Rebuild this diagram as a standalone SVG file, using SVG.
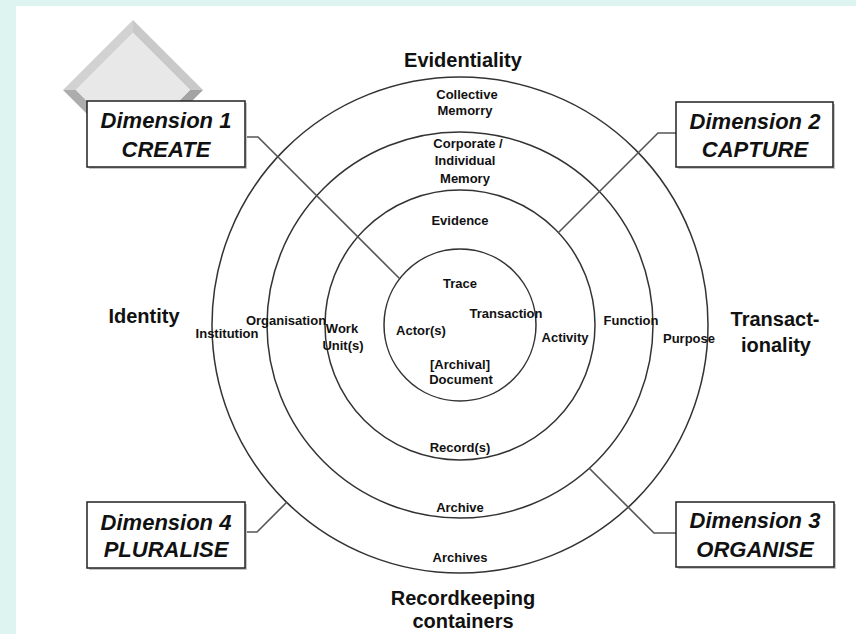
<svg xmlns="http://www.w3.org/2000/svg" width="856" height="634" viewBox="0 0 856 634">
  <style>
    .ring { fill: none; stroke: #333; stroke-width: 1.5; }
    .link { fill: none; stroke: #555; stroke-width: 1.6; }
    .box { fill: #fff; stroke: #222; stroke-width: 1.5; }
    .shadow { fill: #c4c4c4; }
    .dim { font-family: "Liberation Sans", Arial, sans-serif; font-style: italic; font-weight: bold; font-size: 22px; fill: #111; text-anchor: middle; }
    .axis { font-family: "Liberation Sans", Arial, sans-serif; font-weight: bold; font-size: 20px; fill: #111; text-anchor: middle; }
    .lbl { font-family: "Liberation Sans", Arial, sans-serif; font-weight: bold; font-size: 13px; fill: #111; text-anchor: middle; }
  </style>

  <!-- page background -->
  <rect x="0" y="0" width="856" height="634" fill="#ddf4f1"/>
  <rect x="16" y="6" width="840" height="628" fill="#fff"/>

  <!-- bevelled diamond ornament -->
  <g id="ornament">
    <polygon points="133,20 133,33 76,90 63,90" fill="#d2d2d2"/>
    <polygon points="133,20 203,90 190,90 133,33" fill="#c9c9c9"/>
    <polygon points="203,90 133,160 133,147 190,90" fill="#a3a3a3"/>
    <polygon points="63,90 76,90 133,147 133,160" fill="#adadad"/>
    <polygon points="133,33 190,90 133,147 76,90" fill="#e8e8e8"/>
  </g>

  <!-- concentric rings -->
  <g id="rings">
    <circle class="ring" cx="460" cy="325" r="248"/>
    <circle class="ring" cx="460" cy="325" r="193"/>
    <circle class="ring" cx="460" cy="325" r="135"/>
    <circle class="ring" cx="460" cy="325" r="76"/>
  </g>

  <!-- connectors from dimension boxes to rings -->
  <g id="connectors">
    <polyline class="link" points="245,137 258,137 400,279"/>
    <polyline class="link" points="676,133 658,133 558,233"/>
    <polyline class="link" points="676,533 654,533 589,468"/>
    <polyline class="link" points="245,532 257,532 287,502"/>
  </g>

  <!-- axis labels -->
  <g id="axis-evidentiality">
    <text class="axis" x="463" y="67">Evidentiality</text>
  </g>
  <g id="axis-identity">
    <text class="axis" x="144" y="323">Identity</text>
  </g>
  <g id="axis-transactionality">
    <text class="axis" x="775" y="326">Transact-</text>
    <text class="axis" x="776" y="352">ionality</text>
  </g>
  <g id="axis-containers">
    <text class="axis" x="463" y="605">Recordkeeping</text>
    <text class="axis" x="463" y="628">containers</text>
  </g>

  <!-- ring labels -->
  <g id="ring-labels">
    <text class="lbl" x="467" y="99">Collective</text>
    <text class="lbl" x="465" y="115">Memorry</text>
    <text class="lbl" x="468" y="148">Corporate /</text>
    <text class="lbl" x="465" y="165">Individual</text>
    <text class="lbl" x="465" y="183">Memory</text>
    <text class="lbl" x="460" y="225">Evidence</text>
    <text class="lbl" x="460" y="288">Trace</text>
    <text class="lbl" x="506" y="318">Transaction</text>
    <text class="lbl" x="421" y="335">Actor(s)</text>
    <text class="lbl" x="565" y="342">Activity</text>
    <text class="lbl" x="460" y="369">[Archival]</text>
    <text class="lbl" x="461" y="384">Document</text>
    <text class="lbl" x="460" y="452">Record(s)</text>
    <text class="lbl" x="460" y="512">Archive</text>
    <text class="lbl" x="460" y="562">Archives</text>
    <text class="lbl" x="227" y="338">Institution</text>
    <text class="lbl" x="286" y="325">Organisation</text>
    <text class="lbl" x="342" y="333">Work</text>
    <text class="lbl" x="343" y="350">Unit(s)</text>
    <text class="lbl" x="631" y="325">Function</text>
    <text class="lbl" x="689" y="343">Purpose</text>
  </g>

  <!-- dimension boxes -->
  <g id="dimension-1">
    <rect class="shadow" x="89" y="103" width="158" height="66"/>
    <rect class="box" x="87" y="101" width="158" height="66"/>
    <text class="dim" x="166" y="128">Dimension 1</text>
    <text class="dim" x="166" y="157">CREATE</text>
  </g>
  <g id="dimension-2">
    <rect class="shadow" x="678" y="104" width="157" height="65"/>
    <rect class="box" x="676" y="102" width="157" height="65"/>
    <text class="dim" x="755" y="129">Dimension 2</text>
    <text class="dim" x="755" y="157">CAPTURE</text>
  </g>
  <g id="dimension-3">
    <rect class="shadow" x="678" y="504" width="158" height="65"/>
    <rect class="box" x="676" y="502" width="158" height="65"/>
    <text class="dim" x="755" y="528">Dimension 3</text>
    <text class="dim" x="755" y="557">ORGANISE</text>
  </g>
  <g id="dimension-4">
    <rect class="shadow" x="89" y="504" width="158" height="66"/>
    <rect class="box" x="87" y="502" width="158" height="66"/>
    <text class="dim" x="166" y="530">Dimension 4</text>
    <text class="dim" x="166" y="557">PLURALISE</text>
  </g>
</svg>
